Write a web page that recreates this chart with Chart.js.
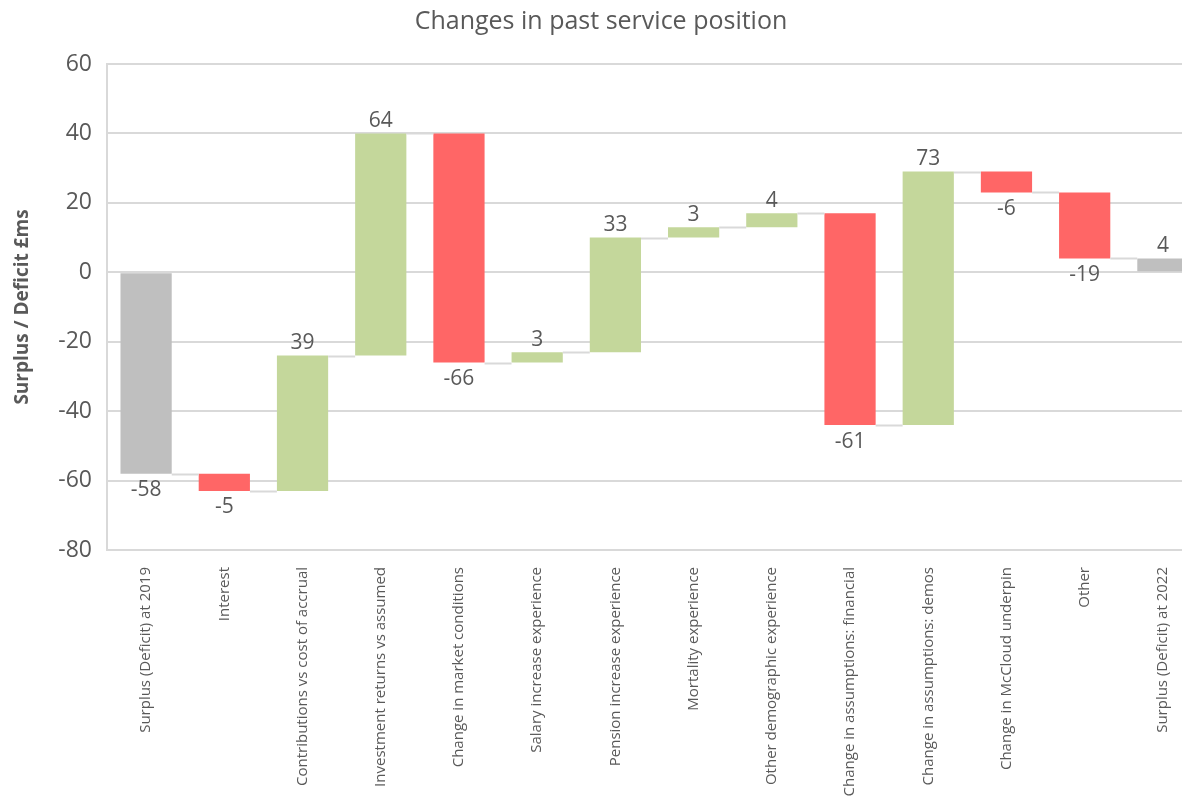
<!DOCTYPE html>
<html>
<head>
<meta charset="utf-8">
<script src="https://cdn.jsdelivr.net/npm/chart.js@4"></script>
<style>
  html, body { margin: 0; padding: 0; background: #fff; overflow: hidden; }
  #wrap { width: 1202px; height: 802px; position: relative; }
</style>
</head>
<body>
<div id="wrap"><canvas id="waterfall"></canvas></div>
<script>
// categories and their changes (£m)
const categories = [
  'Surplus (Deficit) at 2019', 'Interest', 'Contributions vs cost of accrual',
  'Investment returns vs assumed', 'Change in market conditions',
  'Salary increase experience', 'Pension increase experience',
  'Mortality experience', 'Other demographic experience',
  'Change in assumptions: financial', 'Change in assumptions: demos',
  'Change in McCloud underpin', 'Other', 'Surplus (Deficit) at 2022'
];
const changes = [-58, -5, 39, 64, -66, 3, 33, 3, 4, -61, 73, -6, -19, 4];
const isTotal = [true, false, false, false, false, false, false, false, false, false, false, false, false, true];
const yMin = -80, yMax = 60, yStep = 20;

const GREY = '#BFBFBF', RED = '#FF6666', GREEN = '#C4D79B';
const TEXT = '#595959', FONT = "'Open Sans', 'Noto Sans', sans-serif";

// build floating bars + running level after each bar
const ranges = [];
const levels = [];
let running = 0;
changes.forEach((v, i) => {
  if (isTotal[i]) {
    ranges.push([0, v]);
    running = v;
  } else {
    ranges.push([running, running + v]);
    running += v;
  }
  levels.push(running);
});
const colors = changes.map((v, i) => isTotal[i] ? GREY : (v < 0 ? RED : GREEN));

// connectors between bars and the value labels
const waterfallExtras = {
  id: 'waterfallExtras',
  afterDatasetsDraw(chart) {
    const ctx = chart.ctx;
    const meta = chart.getDatasetMeta(0);
    const y = chart.scales.y;
    ctx.save();
    ctx.strokeStyle = '#D9D9D9';
    ctx.lineWidth = 2;
    for (let i = 0; i < meta.data.length - 1; i++) {
      const a = meta.data[i], b = meta.data[i + 1];
      const py = Math.round(y.getPixelForValue(levels[i])) + 0.5;
      ctx.beginPath();
      ctx.moveTo(a.x + a.width / 2, py);
      ctx.lineTo(b.x - b.width / 2, py);
      ctx.stroke();
    }
    ctx.fillStyle = TEXT;
    ctx.font = '21px ' + FONT;
    ctx.textAlign = 'center';
    meta.data.forEach((el, i) => {
      const top = Math.min(el.y, el.base), bottom = Math.max(el.y, el.base);
      if (changes[i] >= 0) {
        ctx.textBaseline = 'bottom';
        ctx.fillText(String(changes[i]), el.x, top - 2);
      } else {
        ctx.textBaseline = 'top';
        ctx.fillText(String(changes[i]), el.x, bottom + 6);
      }
    });
    ctx.restore();
  }
};

new Chart(document.getElementById('waterfall').getContext('2d'), {
  type: 'bar',
  data: {
    labels: categories,
    datasets: [{
      data: ranges,
      backgroundColor: colors,
      borderWidth: 0,
      barPercentage: 0.655,
      categoryPercentage: 1.0
    }]
  },
  options: {
    responsive: true,
    maintainAspectRatio: false,
    animation: false,
    layout: { padding: 0 },
    plugins: {
      legend: { display: false },
      tooltip: { enabled: false },
      title: {
        display: true,
        text: 'Changes in past service position',
        color: TEXT,
        font: { family: FONT, size: 25, weight: 'normal' },
        padding: { top: 7, bottom: 27 }
      }
    },
    scales: {
      x: {
        grid: { display: false, drawTicks: false },
        border: { display: true, color: '#D9D9D9', width: 2 },
        ticks: {
          color: TEXT,
          font: { family: FONT, size: 15 },
          minRotation: 90,
          maxRotation: 90,
          autoSkip: false,
          padding: 17
        },
        afterFit(scale) { scale.height = 252; }
      },
      y: {
        min: yMin,
        max: yMax,
        ticks: {
          stepSize: yStep,
          color: TEXT,
          font: { family: FONT, size: 23 },
          padding: 15
        },
        grid: { color: '#D9D9D9', lineWidth: 2, drawTicks: false },
        border: { display: true, color: '#D9D9D9', width: 2 },
        title: {
          display: true,
          text: 'Surplus / Deficit £ms',
          color: TEXT,
          font: { family: FONT, size: 19, weight: 'bold' },
          padding: { top: 11, bottom: 0 }
        },
        afterFit(scale) { scale.width = 107; }
      }
    }
  },
  plugins: [waterfallExtras]
});
</script>
</body>
</html>
